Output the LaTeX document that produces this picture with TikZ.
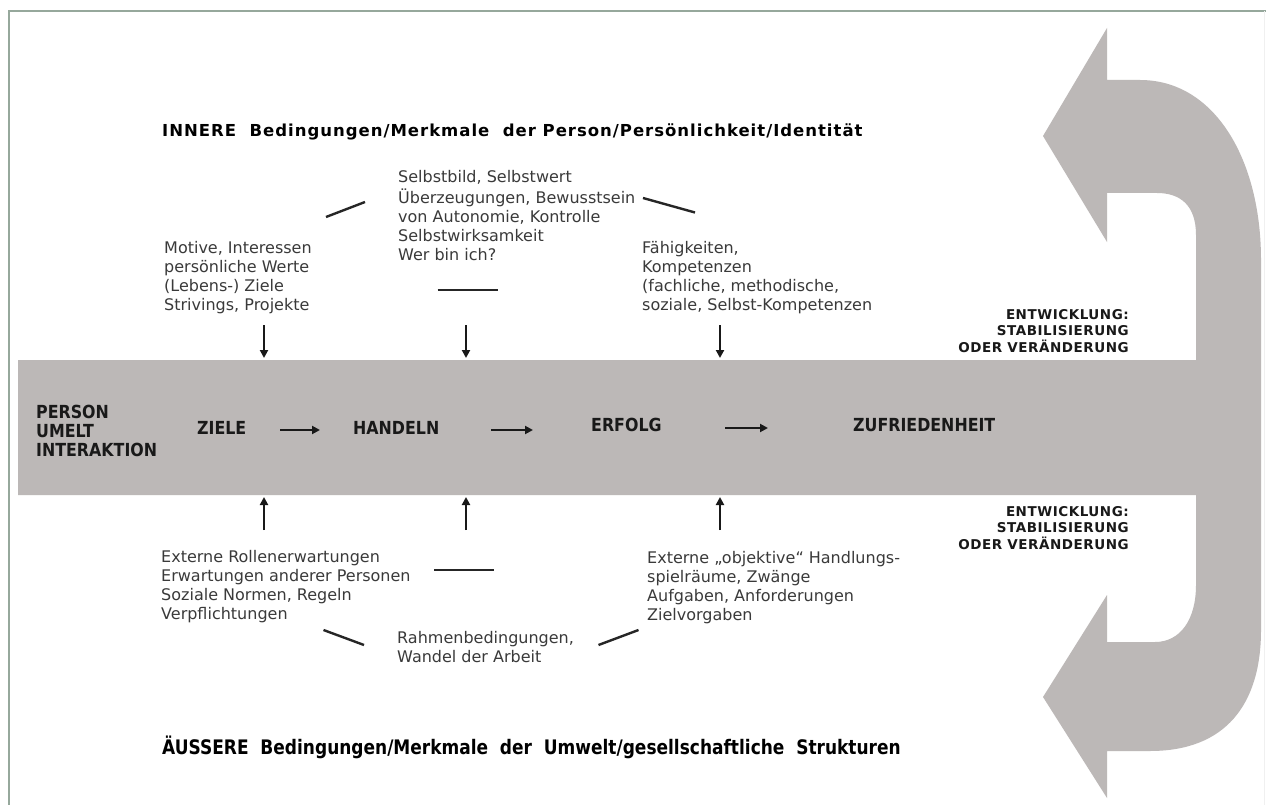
\documentclass[tikz,border=0pt]{standalone}
\usepackage{fontspec}
\setmainfont{DejaVu Sans}
\newfontfamily\spacedfont{DejaVu Sans}[LetterSpace=6]
\newfontfamily\sidefont{DejaVu Sans}[LetterSpace=4]
\usetikzlibrary{arrows.meta}
\definecolor{bandgray}{RGB}{188,184,183}
\definecolor{framecol}{RGB}{150,168,156}
\definecolor{txt}{RGB}{58,58,58}
\newcommand\condtext[2][0.88]{\scalebox{#1}[1]{#2}}
\tikzset{
  body/.style={inner sep=0pt, anchor=base west, text=txt, font=\fontsize{16}{19}\selectfont},
  bandlbl/.style={inner sep=0pt, anchor=base west, text=black!90, font=\fontsize{18}{19.3}\selectfont\bfseries},
  sidelbl/.style={inner sep=0pt, anchor=base east, text=black!90, font=\sidefont\fontsize{13.5}{16.5}\selectfont\bfseries},
  flowarr/.style={line width=2.2pt, black!90, -{Triangle[length=8pt,width=8pt]}},
  tick/.style={line width=2.4pt, black!85},
}
\begin{document}
\begin{tikzpicture}[x=1pt,y=-1pt]
\useasboundingbox (0,0) rectangle (1266,805);
\fill[white] (0,0) rectangle (1266,805);
% frame
\draw[framecol, line width=2pt] (9,805) -- (9,11) -- (1266,11);
\draw[gray!12, line width=1pt] (1264.5,11) -- (1264.5,805);
% big gray band with feedback arrows
\fill[bandgray] (18,360) -- (1196,360) -- (1196,235)
  .. controls (1196,205) and (1180,193) .. (1157,193) -- (1107,193) -- (1107,242)
  -- (1043,136) -- (1107,28) -- (1107,80) -- (1140,80)
  .. controls (1215,80) and (1261,160) .. (1261,260) -- (1261,630)
  .. controls (1261,705) and (1225,751) .. (1150,751) -- (1107,751) -- (1107,798)
  -- (1043,697) -- (1107,595) -- (1107,642) -- (1155,642)
  .. controls (1180,642) and (1196,620) .. (1196,585) -- (1196,495) -- (18,495) -- cycle;

% titles
\node[inner sep=0pt, anchor=base west, font=\spacedfont\fontsize{16.5}{19}\selectfont\bfseries] (innere) at (162,137)
  {INNERE\ \ Bedingungen/Merkmale\ \ der Person/Persönlichkeit/Identität};
\node[inner sep=0pt, anchor=base west, font=\fontsize{20}{24}\selectfont\bfseries] (aeussere) at (162,754)
  {\condtext[0.85]{ÄUSSERE\ \ Bedingungen/Merkmale\ \ der\ \ Umwelt/gesellschaftliche\ \ Strukturen}};

% upper text blocks
\node[body] (selbst) at (398,183) {\begin{tabular}[t]{@{}l@{}}Selbstbild, Selbstwert\\Überzeugungen, Bewusstsein\\von Autonomie, Kontrolle\\Selbstwirksamkeit\\Wer bin ich?\end{tabular}};
\node[body] (motive) at (164,254) {\begin{tabular}[t]{@{}l@{}}Motive, Interessen\\persönliche Werte\\(Lebens-) Ziele\\Strivings, Projekte\end{tabular}};
\node[body] (faehig) at (642,253.5) {\begin{tabular}[t]{@{}l@{}}Fähigkeiten,\\Kompetenzen\\(fachliche, methodische,\\soziale, Selbst-Kompetenzen\end{tabular}};

% lower text blocks
\node[body] (extern) at (161,562) {\begin{tabular}[t]{@{}l@{}}Externe Rollenerwartungen\\Erwartungen anderer Personen\\Soziale Normen, Regeln\\Verpflichtungen\end{tabular}};
\node[body] (objektiv) at (647,563) {\begin{tabular}[t]{@{}l@{}}Externe „objektive“ Handlungs-\\spielräume, Zwänge\\Aufgaben, Anforderungen\\Zielvorgaben\end{tabular}};
\node[body] (rahmen) at (397,643.5) {\begin{tabular}[t]{@{}l@{}}Rahmenbedingungen,\\Wandel der Arbeit\end{tabular}};

% band labels
\node[bandlbl] (person) at (36,418) {\condtext{\begin{tabular}[t]{@{}l@{}}PERSON\\UMELT\\INTERAKTION\end{tabular}}};
\node[bandlbl] (ziele) at (197,434) {\condtext{ZIELE}};
\node[bandlbl] (handeln) at (353,434) {\condtext{HANDELN}};
\node[bandlbl] (erfolg) at (591,431) {\condtext{ERFOLG}};
\node[bandlbl] (zufrieden) at (853,431) {\condtext{ZUFRIEDENHEIT}};

% side labels
\node[sidelbl] (entw1) at (1129,319) {\begin{tabular}[t]{@{}r@{}}ENTWICKLUNG:\\STABILISIERUNG\\ODER VERÄNDERUNG\end{tabular}};
\node[sidelbl] (entw2) at (1129,516) {\begin{tabular}[t]{@{}r@{}}ENTWICKLUNG:\\STABILISIERUNG\\ODER VERÄNDERUNG\end{tabular}};

% arrow coordinates
\coordinate (h1a) at (280,430); \coordinate (h1b) at (320,430);
\coordinate (h2a) at (491,430); \coordinate (h2b) at (533,430);
\coordinate (h3a) at (725,428); \coordinate (h3b) at (768,428);
\coordinate (d1a) at (264,325); \coordinate (d1b) at (264,358);
\coordinate (d2a) at (466,325); \coordinate (d2b) at (466,358);
\coordinate (d3a) at (720,325); \coordinate (d3b) at (720,358);
\coordinate (u1a) at (264,530); \coordinate (u1b) at (264,497);
\coordinate (u2a) at (466,530); \coordinate (u2b) at (466,497);
\coordinate (u3a) at (720,530); \coordinate (u3b) at (720,497);
\draw[flowarr] (h1a) -- (h1b);
\draw[flowarr] (h2a) -- (h2b);
\draw[flowarr] (h3a) -- (h3b);
\draw[flowarr] (d1a) -- (d1b);
\draw[flowarr] (d2a) -- (d2b);
\draw[flowarr] (d3a) -- (d3b);
\draw[flowarr] (u1a) -- (u1b);
\draw[flowarr] (u2a) -- (u2b);
\draw[flowarr] (u3a) -- (u3b);

% decorative strokes
\draw[tick] (326,217) -- (365,202);
\draw[tick] (643,198) -- (695,212.5);
\draw[tick] (437.5,290) -- (497.5,290);
\draw[tick] (434,570) -- (494,570);
\draw[tick] (323.5,630) -- (364,645);
\draw[tick] (598.5,645) -- (638.5,630);
\end{tikzpicture}
\end{document}
